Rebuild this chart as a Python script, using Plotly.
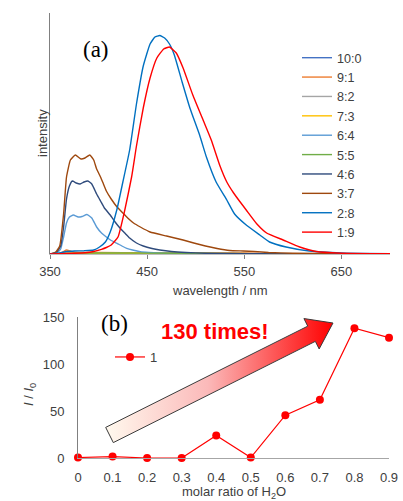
import plotly.graph_objects as go
import numpy as np

W, H = 403, 501

# ---------------- (a) emission spectra ----------------
labels = ["10:0", "9:1", "8:2", "7:3", "6:4", "5:5", "4:6", "3:7", "2:8", "1:9"]
colors = ["#4472C4", "#ED7D31", "#A5A5A5", "#FFC000", "#5B9BD5",
          "#70AD47", "#2F4B7C", "#9E480E", "#0070C0", "#FF0000"]

wl_100 = [350, 365, 380, 420, 480, 540, 600, 700]
in_100 = [0, 0.3, 0.5, 0.5, 0.4, 0.3, 0.1, 0]

wl_91 = [350, 360, 364, 367, 371, 376, 385, 400, 450, 500, 550, 565, 600, 700]
in_91 = [0, 0.5, 2.5, 4, 3, 1.6, 1.5, 1.5, 1.3, 1.1, 1, 0.5, 0.2, 0]

wl_82 = [350, 365, 380, 420, 480, 540, 600, 700]
in_82 = [0, 0.5, 0.7, 0.7, 0.6, 0.4, 0.2, 0]

wl_73 = [350, 365, 380, 420, 480, 540, 600, 700]
in_73 = [0, 0.6, 0.8, 0.8, 0.6, 0.4, 0.2, 0]

wl_64 = [350, 357, 361, 364, 367, 370, 374, 379, 383, 388, 393, 398, 403, 408,
         413, 419, 424, 429, 435, 443, 452, 462, 480, 500, 550, 700]
in_64 = [0, 1, 5, 17, 31, 37, 39, 37, 37.5, 39.5, 36, 27, 21, 17,
         13.5, 10.7, 8, 5.7, 4, 2.3, 1.5, 1, 0.5, 0.3, 0.1, 0]

wl_55 = [350, 365, 380, 420, 480, 520, 560, 600, 700]
in_55 = [0, 0.8, 1, 1, 0.8, 0.6, 0.4, 0.2, 0]

wl_46 = [350, 357, 361, 364, 367, 370, 373, 377, 381, 385, 389, 393, 398, 402,
         406, 412, 417, 422, 427, 432, 439, 446, 455, 463, 475, 490, 510, 550, 700]
in_46 = [0, 2, 8, 27, 55, 68, 73, 71, 70, 72, 73, 70, 60, 53,
         46, 39, 32, 26, 21, 16, 11, 8, 5.5, 4, 2.5, 1.5, 0.8, 0.3, 0]

wl_37 = [350, 356, 360, 364, 367, 371, 376, 382, 386, 391, 395, 398, 402, 405,
         408, 413, 419, 425, 430, 436, 443, 453, 470, 487, 498, 510, 522, 535,
         549, 560, 575, 600, 650, 700]
in_37 = [0, 2, 8, 40, 77, 94, 99, 95, 96, 99, 94, 85, 77, 70,
         63, 55, 47, 41, 36, 31, 27, 22, 18, 14, 11, 8, 5.5, 3.5,
         3, 2.5, 1.5, 0.8, 0.3, 0]

wl_28 = [350, 360, 367, 375, 385, 395, 401, 407, 412, 419, 425, 432, 439, 446,
         453, 458, 463, 468, 473, 478, 486, 494, 504, 511, 521, 532, 540, 552,
         566, 576, 593, 617, 650, 700]
in_28 = [0, 1, 2.5, 3, 3.3, 4, 7, 12, 22, 45, 72, 104, 150, 188,
         210, 217, 218.5, 216, 210, 199, 172, 146, 119, 97, 72, 54, 40, 29,
         19, 12, 7, 3, 1, 0.3]

wl_19 = [350, 360, 375, 386, 395, 403, 408, 413, 420, 427, 434, 439, 446, 453,
         460, 467, 473, 480, 487, 497, 508, 516, 525, 532, 539, 545, 552, 563,
         573, 590, 607, 624, 650, 700]
in_19 = [0, 0.3, 0.8, 1.3, 2.5, 4.7, 6.5, 9, 17, 44, 77, 108, 146, 176,
         196, 205, 207, 201, 186, 159, 133, 114, 88, 72, 61, 53, 44, 30,
         21, 14, 7, 2.5, 0.8, 0.2]

spectra_wl = [wl_100, wl_91, wl_82, wl_73, wl_64, wl_55, wl_46, wl_37, wl_28, wl_19]
spectra_in = [in_100, in_91, in_82, in_73, in_64, in_55, in_46, in_37, in_28, in_19]

wl_ticks = [350, 450, 550, 650]

# ---------------- (b) I/I0 vs molar ratio ----------------
ratio = [0, 0.1, 0.2, 0.3, 0.4, 0.5, 0.6, 0.7, 0.8, 0.9]
i_over_i0 = [0.5, 1.5, 0, 0, 24, 0.5, 45.5, 62, 138, 128]
ratio_ticks = [0, 0.1, 0.2, 0.3, 0.4, 0.5, 0.6, 0.7, 0.8, 0.9]
ratio_ticktext = ["0", "0.1", "0.2", "0.3", "0.4", "0.5", "0.6", "0.7", "0.8", "0.9"]
y_ticks_b = [0, 50, 100, 150]

FONT = "Liberation Sans, Arial, sans-serif"
SERIF = "Liberation Serif, Times New Roman, serif"
TXT = "#404040"


def px(x):
    return x / W


def py(y):
    return 1 - y / H


fig = go.Figure()

for lab, col, xs, ys in zip(labels, colors, spectra_wl, spectra_in):
    fig.add_trace(go.Scatter(
        x=xs, y=ys, mode="lines", name=lab,
        line=dict(color=col, width=1.4, shape="spline", smoothing=0.4),
        xaxis="x", yaxis="y", legend="legend"))

fig.add_trace(go.Scatter(
    x=ratio, y=i_over_i0, mode="lines+markers", name="1",
    line=dict(color="#FF0000", width=1.2),
    marker=dict(color="#FF0000", size=8),
    cliponaxis=False, xaxis="x2", yaxis="y2", legend="legend2"))

# decorative gradient arrow on a hidden pixel-space overlay axis
tail = np.array([109.5, 435.0])
tip = np.array([333.0, 323.0])
u = (tip - tail) / np.linalg.norm(tip - tail)
n = np.array([-u[1], u[0]])
head_len, head_half, shaft_half = 24.0, 17.0, 8.5
base = tip - u * head_len
poly = [tail + n * shaft_half, base + n * shaft_half, base + n * head_half, tip,
        base - n * head_half, base - n * shaft_half, tail - n * shaft_half,
        tail + n * shaft_half]
fig.add_trace(go.Scatter(
    x=[p[0] for p in poly], y=[p[1] for p in poly], mode="lines",
    fill="toself", line=dict(color="#3A3A3A", width=1),
    fillgradient=dict(type="horizontal",
                      colorscale=[[0, "#FFF9EE"], [0.45, "#FBB9B9"], [1, "#FF0000"]]),
    showlegend=False, hoverinfo="skip", xaxis="x3", yaxis="y3"))

axis_common = dict(showgrid=False, zeroline=False, mirror=False, automargin=False)

fig.update_layout(
    template="none",
    width=W, height=H, autosize=False,
    margin=dict(l=0, r=0, t=0, b=0, pad=0),
    paper_bgcolor="white", plot_bgcolor="rgba(0,0,0,0)",
    font=dict(family=FONT, size=13, color=TXT),
    xaxis=dict(domain=[px(50), px(390)], range=[350, 700],
               tickvals=wl_ticks, ticks="outside", ticklen=4,
               tickcolor="#808080", showline=True, linecolor="#BFBFBF",
               linewidth=1, anchor="y", tickfont=dict(size=13, color=TXT),
               ticklabelstandoff=1, **axis_common),
    yaxis=dict(domain=[py(254), py(13)], range=[0, 241],
               showticklabels=False, ticks="", showline=True,
               linecolor="#808080", linewidth=1, anchor="x", **axis_common),
    xaxis2=dict(domain=[px(78), px(389)], range=[0, 0.9],
                tickvals=ratio_ticks, ticktext=ratio_ticktext, ticks="",
                showline=True, linecolor="#A6A6A6", linewidth=1, anchor="y2",
                tickfont=dict(size=13, color=TXT), ticklabelstandoff=7,
                **axis_common),
    yaxis2=dict(domain=[py(458), py(317)], range=[0, 150],
                tickvals=y_ticks_b, ticks="", showline=True,
                linecolor="#808080", linewidth=1, anchor="x2",
                tickfont=dict(size=13, color=TXT), ticklabelstandoff=10,
                **axis_common),
    xaxis3=dict(domain=[0, 1], range=[0, W], visible=False, anchor="y3",
                automargin=False),
    yaxis3=dict(domain=[0, 1], range=[H, 0], visible=False, anchor="x3",
                automargin=False),
    legend=dict(x=px(297), y=py(43), xanchor="left", yanchor="top",
                bgcolor="rgba(0,0,0,0)", font=dict(size=12.6, color=TXT),
                itemwidth=30, tracegroupgap=0),
    legend2=dict(x=px(110), y=py(357), xanchor="left", yanchor="middle",
                 bgcolor="rgba(0,0,0,0)", font=dict(size=13, color=TXT)),
    showlegend=True,
)

annotations = [
    dict(text="(a)", x=px(96), y=py(49), font=dict(family=SERIF, size=23, color="#000")),
    dict(text="(b)", x=px(114), y=py(323), font=dict(family=SERIF, size=23, color="#000")),
    dict(text="wavelength / nm", x=px(220), y=py(290), font=dict(size=13, color=TXT)),
    dict(text="intensity", x=px(42), y=py(133), textangle=-90, font=dict(size=13, color=TXT)),
    dict(text="molar ratio of H<sub>2</sub>O", x=px(234), y=py(492), font=dict(size=13, color=TXT)),
    dict(text="<i>I</i> / <i>I</i><sub>0</sub>", x=px(29), y=py(395), textangle=-90,
         font=dict(size=13, color=TXT)),
    dict(text="<b>130 times!</b>", x=px(215), y=py(331),
         font=dict(size=22, color="#FF0000")),
]
for a in annotations:
    a.update(xref="paper", yref="paper", showarrow=False, xanchor="center", yanchor="middle")
fig.update_layout(annotations=annotations)

fig.write_html("out.html")
